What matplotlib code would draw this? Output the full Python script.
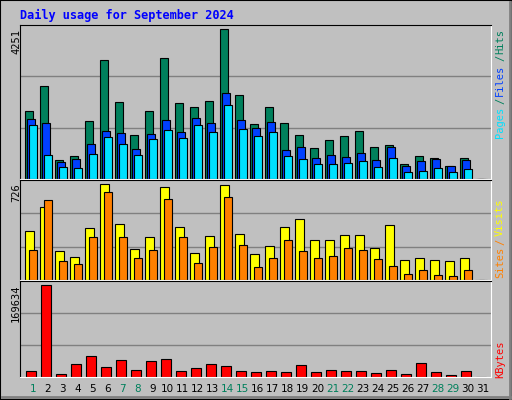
import matplotlib
matplotlib.use('Agg')
import matplotlib.pyplot as plt
from matplotlib.patches import Rectangle
import numpy as np

days = [str(d) for d in range(1, 32)]
weekend = [1, 7, 8, 14, 15, 21, 22, 28, 29]

hits = [1914, 2635, 529, 644, 1654, 3357, 2174, 1250, 1914, 3414, 2145, 2029, 2202, 4251, 2376,
        1568, 2029, 1597, 1250, 875, 1106, 1221, 1366, 904, 962, 414, 644, 587, 356, 587, 0]
files = [1712, 1597, 471, 558, 991, 1366, 1308, 846, 1279, 1683, 1337, 1741, 1597, 2433, 1683,
         1452, 1625, 818, 904, 587, 673, 616, 731, 529, 904, 356, 500, 558, 356, 529, 0]
pages = [1539, 673, 327, 298, 702, 1193, 991, 673, 1135, 1395, 1164, 1539, 1337, 2087, 1423,
         1221, 1337, 644, 558, 414, 414, 442, 500, 327, 587, 212, 240, 298, 212, 269, 0]
visits = [371, 552, 221, 174, 395, 726, 426, 237, 324, 702, 402, 205, 331, 718, 347,
          197, 260, 402, 458, 300, 300, 339, 339, 245, 418, 150, 166, 150, 142, 166, 0]
sites = [229, 608, 142, 118, 324, 663, 324, 166, 229, 615, 324, 126, 252, 631, 268,
         95, 166, 300, 221, 166, 181, 245, 229, 158, 103, 47, 79, 39, 32, 79, 0]
kbytes = [11761, 169634, 6190, 24760, 39620, 19190, 32190, 13620, 30330, 34050, 11761, 17330,
          24760, 21050, 11761, 9904, 11761, 9904, 22900, 9904, 13620, 11761, 11761, 8047, 13620,
          6190, 26620, 9904, 4333, 11761, 0]

BG = '#C0C0C0'
W, H = 512, 400
fig = plt.figure(figsize=(W / 100, H / 100), dpi=100)
fig.patch.set_facecolor(BG)
MONO = 'DejaVu Sans Mono'

# outer frame with bevel
fig.add_artist(Rectangle((0, 0), 1, 1, transform=fig.transFigure, fill=False, edgecolor='black', lw=1.5))
fig.add_artist(plt.Line2D([1 - 2/W, 1 - 2/W], [2/H, 1 - 2/H], color='#808080', lw=2))
fig.add_artist(plt.Line2D([2/W, 1 - 2/W], [3/H, 3/H], color='#808080', lw=2))

fig.text(20/W, 1 - 15/H, 'Daily usage for September 2024', family=MONO, weight='bold',
         fontsize=8.6, color='#0000FF', va='center')

x = np.arange(31)
left, right = 20, 491


def panel(top, bottom):
    ax = fig.add_axes([left/W, 1 - bottom/H, (right-left)/W, (bottom-top)/H])
    ax.set_facecolor(BG)
    ax.set_xlim(-0.35, 31.05)
    ax.set_xticks([])
    ax.set_yticks([])
    for s in ['left', 'top']:
        ax.spines[s].set_color('black')
    for s in ['right', 'bottom']:
        ax.spines[s].set_color('white')
    return ax


def scale(ax, vmax, frac):
    top = vmax / frac
    ax.set_ylim(0, top)
    for g in (top / 3, 2 * top / 3):
        ax.axhline(g, color='#808080', lw=1, zorder=0)


bw = 1 / 15.0
ekw = dict(edgecolor='black', linewidth=0.8, align='edge')

ax1 = panel(25, 179)
scale(ax1, max(hits), 0.975)
ax1.bar(x, hits, width=7.3*bw, color='#00805C', **ekw)
ax1.bar(x + 2*bw, files, width=7.3*bw, color='#0040FF', **ekw)
ax1.bar(x + 4*bw, pages, width=7.3*bw, color='#00E0FF', **ekw)

ax2 = panel(180, 280)
scale(ax2, max(visits), 0.96)
ax2.bar(x, visits, width=8.3*bw, color='#FFFF00', **ekw)
ax2.bar(x + 4*bw, sites, width=7.5*bw, color='#FF8000', **ekw)

ax3 = panel(281, 377)
scale(ax3, max(kbytes), 0.955)
ax3.bar(x + 1*bw, kbytes, width=10*bw, color='#FF0000', **ekw)

# left max labels
for ax, v, top in [(ax1, hits, 29), (ax2, visits, 183), (ax3, kbytes, 284)]:
    fig.text(16/W, 1 - top/H, str(max(v)), rotation=90, family=MONO, fontsize=7.5,
             ha='center', va='top')

# right legend labels: (text, colour, centre y in pixels)
def rlabel(parts):
    for txt, col, yc in parts:
        fig.text(500/W, 1 - yc/H, txt, rotation=90, family=MONO, fontsize=7.5,
                 color=col, ha='center', va='center')

rlabel([('Pages', '#00E0FF', 122), ('/', '#00805C', 101), ('Files', '#0040FF', 80),
        ('/', '#00805C', 58), ('Hits', '#00805C', 41)])
rlabel([('Sites', '#FF8000', 262), ('/', '#FF8000', 242), ('Visits', '#FFFF00', 217)])
rlabel([('KBytes', '#FF0000', 359)])

# day labels
for i, d in enumerate(days):
    col = '#00805C' if (i + 1) in weekend else 'black'
    fig.text((25.3 + i * 15 + 7.5) / W, 1 - 389/H, d, fontsize=7.5, color=col,
             ha='center', va='center')

fig.savefig('out.png', dpi=100, facecolor=BG)
